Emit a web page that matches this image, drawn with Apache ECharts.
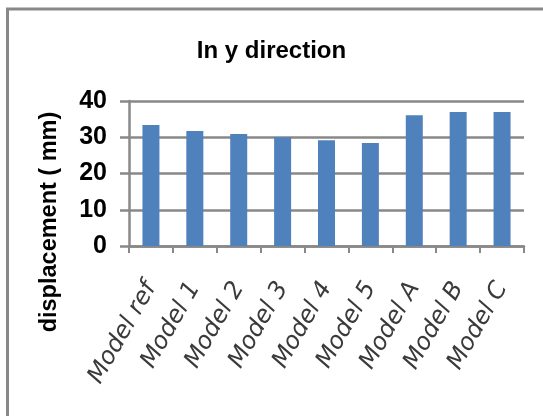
<!DOCTYPE html>
<html>
<head>
<meta charset="utf-8">
<style>
  html, body { margin: 0; padding: 0; background: #fff; }
  #chart { width: 543px; height: 416px; }
</style>
<script src="https://cdn.jsdelivr.net/npm/echarts@6/dist/echarts.min.js"></script>
</head>
<body>
<div id="chart"></div>
<script>
// Displacement per model, y direction (mm)
const categories = ['Model ref', 'Model 1', 'Model 2', 'Model 3', 'Model 4', 'Model 5', 'Model A', 'Model B', 'Model C'];
const displacement = [33.4, 31.7, 30.9, 30.0, 29.2, 28.4, 36.1, 37.0, 37.0];
const yTicks = { min: 0, max: 40, interval: 10 };
const yAxisTitle = 'displacement ( mm)';

const chart = echarts.init(document.getElementById('chart'), null, { renderer: 'canvas' });

chart.setOption({
  backgroundColor: '#ffffff',
  animation: false,
  title: {
    text: 'In y direction',
    left: 'center',
    top: 34,
    textStyle: { fontFamily: 'Liberation Sans', fontSize: 24, fontWeight: 'bold', color: '#000' }
  },
  graphic: [
    {
      // chart frame
      type: 'rect',
      shape: { x: 7.5, y: 9, width: 560, height: 420 },
      style: { fill: 'none', stroke: '#888', lineWidth: 3 },
      silent: true
    },
    {
      // value axis title, set a little below the plot's middle
      type: 'text',
      x: 50,
      y: 222,
      rotation: Math.PI / 2,
      style: {
        text: yAxisTitle,
        fontFamily: 'Liberation Sans',
        fontSize: 23.5,
        fontWeight: 'bold',
        fill: '#000',
        textAlign: 'center',
        textVerticalAlign: 'middle'
      },
      silent: true
    }
  ],
  grid: { left: 129, right: 19, top: 101, bottom: 170 },
  xAxis: {
    type: 'category',
    data: categories,
    axisLine: { lineStyle: { color: '#888', width: 2.5 } },
    axisTick: { show: true, length: 7, alignWithLabel: false, lineStyle: { color: '#888', width: 2 } },
    axisLabel: {
      interval: 0,
      rotate: 60,
      margin: 38,
      fontFamily: 'DejaVu Sans',
      fontStyle: 'italic',
      fontSize: 24,
      color: '#3a3a3a'
    }
  },
  yAxis: {
    type: 'value',
    min: yTicks.min,
    max: yTicks.max,
    interval: yTicks.interval,
    axisLine: { show: true, lineStyle: { color: '#888', width: 2.5 } },
    axisTick: { show: true, length: 9, lineStyle: { color: '#888', width: 2.5 } },
    axisLabel: {
      margin: 22,
      fontFamily: 'Liberation Sans',
      fontSize: 25,
      fontWeight: 'bold',
      color: '#000'
    },
    splitLine: { show: true, lineStyle: { color: '#888', width: 2.5 } }
  },
  series: [{
    type: 'bar',
    data: displacement,
    barWidth: 17,
    itemStyle: { color: '#4F81BD' }
  }]
});
</script>
</body>
</html>
